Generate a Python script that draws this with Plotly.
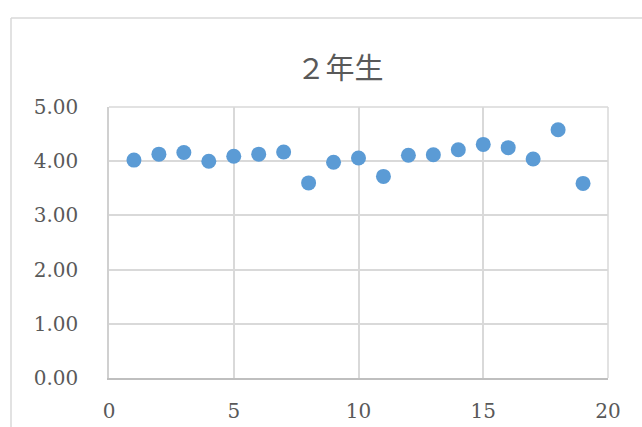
import plotly.graph_objects as go

# Data
student_no = [1, 2, 3, 4, 5, 6, 7, 8, 9, 10, 11, 12, 13, 14, 15, 16, 17, 18, 19]
scores = [4.02, 4.13, 4.16, 4.00, 4.09, 4.13, 4.17, 3.60, 3.98, 4.06,
          3.72, 4.11, 4.12, 4.21, 4.31, 4.25, 4.04, 4.58, 3.59]
x_ticks = [0, 5, 10, 15, 20]
y_ticks = [0, 1, 2, 3, 4, 5]
y_tick_labels = ["0.00", "1.00", "2.00", "3.00", "4.00", "5.00"]
title_text = "２年生"

W, H = 642, 427
L, R, T, B = 109, 34, 107, 49
pw, ph = W - L - R, H - T - B

fig = go.Figure()
fig.add_trace(go.Scatter(
    x=student_no, y=scores, mode="markers",
    marker=dict(color="#5B9BD5", size=15, line=dict(width=0)),
    showlegend=False, hoverinfo="x+y",
))

tick_font = dict(family="DejaVu Serif, Liberation Serif, serif", size=20, color="#595959")

fig.update_layout(
    width=W, height=H,
    margin=dict(l=L, r=R, t=T, b=B, autoexpand=False),
    paper_bgcolor="white", plot_bgcolor="white",
    title=dict(
        text=title_text, x=340 / W, xanchor="center",
        y=1 - 69 / H, yanchor="middle", yref="container",
        font=dict(family="Noto Sans CJK JP, DejaVu Serif, serif", size=29, color="#595959"),
    ),
    xaxis=dict(
        range=[min(x_ticks), max(x_ticks)], tickvals=x_ticks, ticktext=[str(v) for v in x_ticks],
        showgrid=True, gridcolor="#d9d9d9", gridwidth=1.5,
        zeroline=False, showline=True, linecolor="#bfbfbf", linewidth=1.8,
        ticks="outside", ticklen=14, tickcolor="rgba(0,0,0,0)",
        tickfont=tick_font, fixedrange=True,
    ),
    yaxis=dict(
        range=[min(y_ticks), max(y_ticks)], tickvals=y_ticks, ticktext=y_tick_labels,
        showgrid=True, gridcolor="#d9d9d9", gridwidth=1.5,
        zeroline=False, showline=True, linecolor="#d0d0d0", linewidth=1.5,
        ticks="outside", ticklen=25, tickcolor="rgba(0,0,0,0)",
        tickfont=tick_font, fixedrange=True,
    ),
)

# Gridlines on the top and right edges of the plot area
fig.add_shape(type="line", xref="paper", yref="paper", x0=0, x1=1, y0=1, y1=1,
              line=dict(color="#d9d9d9", width=1.5), layer="below")
fig.add_shape(type="line", xref="paper", yref="paper", x0=1, x1=1, y0=0, y1=1,
              line=dict(color="#d9d9d9", width=1.5), layer="below")

# Outer chart border (extends beyond the visible window on the right and bottom)
bx = (11 - L) / pw
by_top = (H - B - 18) / ph
fig.add_shape(type="line", xref="paper", yref="paper",
              x0=bx, x1=bx, y0=by_top, y1=-0.5,
              line=dict(color="#d9d9d9", width=1.5))
fig.add_shape(type="line", xref="paper", yref="paper",
              x0=bx, x1=1.5, y0=by_top, y1=by_top,
              line=dict(color="#d9d9d9", width=1.5))

fig.write_html(
    "out.html",
    config={"displayModeBar": False},
    post_script="document.body.style.margin='0';document.body.style.overflow='hidden';",
)
